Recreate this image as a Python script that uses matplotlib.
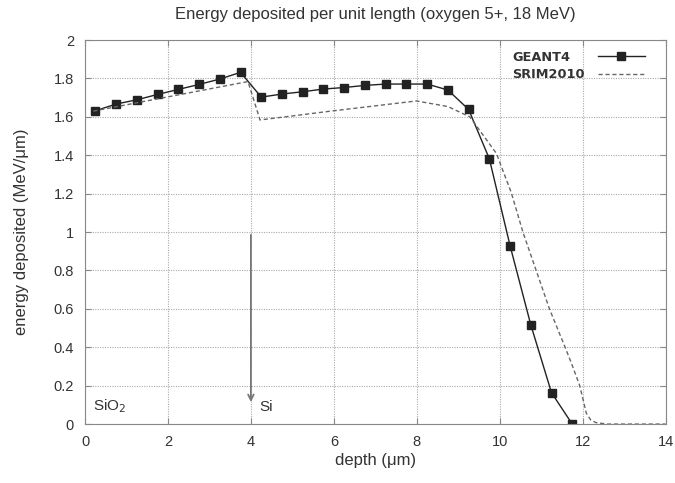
import numpy as np
import matplotlib
matplotlib.use('Agg')
import matplotlib.pyplot as plt
from matplotlib.lines import Line2D

plt.rcParams['font.family'] = ['Liberation Sans', 'DejaVu Sans']

# GEANT4 simulation points
geant_x = [0.25, 0.75, 1.25, 1.75, 2.25, 2.75, 3.25, 3.75, 4.25, 4.75, 5.25, 5.75,
           6.25, 6.75, 7.25, 7.75, 8.25, 8.75, 9.25, 9.75, 10.25, 10.75, 11.25, 11.75]
geant_y = [1.632, 1.667, 1.689, 1.717, 1.743, 1.769, 1.797, 1.832, 1.703, 1.719, 1.731, 1.745,
           1.753, 1.764, 1.771, 1.771, 1.771, 1.740, 1.639, 1.382, 0.929, 0.517, 0.163, 0.0]

# SRIM2010 curve
srim_x = [0.2, 3.93, 4.22, 5.0, 6.0, 7.1, 7.99, 8.75, 9.28, 9.92, 10.28, 10.56, 10.88,
          11.2, 11.57, 11.73, 11.93, 12.09, 12.2, 12.33, 12.6, 14.0]
srim_y = [1.63, 1.784, 1.584, 1.605, 1.632, 1.66, 1.683, 1.654, 1.60, 1.41, 1.205, 1.0, 0.80,
          0.60, 0.404, 0.317, 0.20, 0.056, 0.02, 0.007, 0.0, 0.0]

series_names = ['GEANT4', 'SRIM2010']

fig = plt.figure(figsize=(6.75, 4.83), dpi=100)
ax = fig.add_axes([0.126, 0.122, 0.86, 0.795])

h1, = ax.plot(geant_x, geant_y, color='#222222', lw=1.0, marker='s', ms=6,
              mfc='#222222', mec='#222222')
h2, = ax.plot(srim_x, srim_y, color='#666666', lw=1.0, ls=(0, (3, 2)))

ax.set_xlim(0, 14)
ax.set_ylim(0, 2)
ax.set_xticks(np.arange(0, 15, 2))
ax.set_yticks(np.arange(0, 2.01, 0.2))
ax.set_yticklabels(['0', '0.2', '0.4', '0.6', '0.8', '1', '1.2', '1.4', '1.6', '1.8', '2'])
ax.grid(True, color='#aaaaaa', ls=(0, (1, 1.2)), lw=0.8)
for s in ax.spines.values():
    s.set_color('#888888')
ax.tick_params(direction='in', length=4, color='#888888', labelcolor='#333333',
               labelsize=10.5, top=True, right=True, pad=8)

ax.set_xlabel('depth (\u03bcm)', fontsize=12, color='#333333', labelpad=3)
ax.set_ylabel('energy deposited (MeV/\u03bcm)', fontsize=12, color='#333333', labelpad=18)
ax.set_title('Energy deposited per unit length (oxygen 5+, 18 MeV)', fontsize=12,
             color='#333333', pad=15)

ax.annotate('', xy=(4, 0.1), xytext=(4, 1.0),
            arrowprops=dict(arrowstyle='->', color='#777777', lw=1.3))
ax.text(0.2, 0.07, 'SiO$_2$', fontsize=11, color='#333333')
ax.text(4.2, 0.07, 'Si', fontsize=11, color='#333333')

# gnuplot-style key: labels left aligned, samples to the right
blank = Line2D([], [], ls='none')
leg = ax.legend([blank, blank, h1, h2], series_names + ['', ''], ncol=2,
                loc='upper right', bbox_to_anchor=(0.964, 0.972), frameon=False,
                handlelength=3.6, handletextpad=0.0, columnspacing=1.05,
                borderaxespad=0, borderpad=0, labelspacing=0.35,
                prop={'family': 'DejaVu Sans', 'weight': 'bold', 'size': 9.3})
for t in leg.get_texts():
    t.set_color('#333333')

fig.savefig('out.png', dpi=100)
